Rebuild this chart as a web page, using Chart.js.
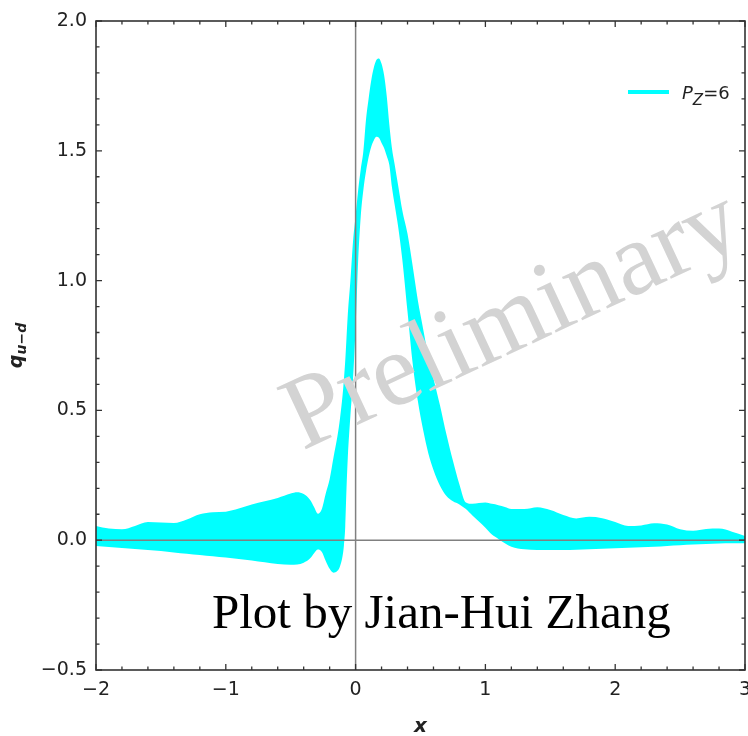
<!DOCTYPE html>
<html>
<head>
<meta charset="utf-8">
<script src="https://cdn.jsdelivr.net/npm/chart.js@4.4.1/dist/chart.umd.min.js"></script>
<style>
  html, body { margin: 0; padding: 0; background: #ffffff; }
  #wrap { width: 748px; height: 736px; position: relative; }
</style>
</head>
<body>
<div id="wrap"><canvas id="c" width="748" height="736"></canvas></div>
<script>
// Sample positions in x (denser around the peak)
const xs = [-2.0,-1.9,-1.8,-1.7,-1.6,-1.5,-1.4,-1.3,-1.2,-1.1,-1.0,-0.9,-0.8,-0.7,-0.6,-0.5,-0.45,-0.4,-0.35,-0.32,-0.29,-0.26,-0.23,-0.2,-0.17,-0.14,-0.12,-0.1,-0.09,-0.08,-0.07,-0.06,-0.04,-0.02,0.0,0.02,0.04,0.06,0.08,0.1,0.12,0.14,0.16,0.18,0.2,0.22,0.24,0.26,0.28,0.3,0.33,0.36,0.4,0.44,0.48,0.52,0.56,0.6,0.65,0.7,0.75,0.8,0.85,0.9,0.95,1.0,1.05,1.1,1.15,1.2,1.3,1.4,1.5,1.6,1.7,1.8,1.9,2.0,2.1,2.2,2.3,2.4,2.5,2.6,2.7,2.8,2.9,3.0];

// Upper edge of the P_z=6 error band
const upperBand = [0.055,0.045,0.042,0.055,0.070,0.068,0.066,0.080,0.100,0.108,0.110,0.122,0.138,0.150,0.163,0.180,0.185,0.178,0.155,0.128,0.102,0.120,0.180,0.235,0.320,0.400,0.470,0.560,0.620,0.690,0.780,0.870,1.000,1.150,1.250,1.350,1.430,1.500,1.620,1.700,1.770,1.820,1.850,1.856,1.835,1.790,1.710,1.600,1.510,1.450,1.360,1.270,1.180,1.055,0.922,0.815,0.710,0.623,0.520,0.407,0.306,0.215,0.145,0.140,0.143,0.145,0.140,0.135,0.128,0.120,0.120,0.127,0.116,0.097,0.084,0.090,0.085,0.070,0.055,0.057,0.065,0.060,0.042,0.036,0.043,0.045,0.033,0.016];

// Lower edge of the P_z=6 error band
const lowerBand = [-0.022,-0.026,-0.030,-0.034,-0.038,-0.042,-0.047,-0.052,-0.057,-0.062,-0.067,-0.072,-0.078,-0.085,-0.092,-0.095,-0.094,-0.087,-0.070,-0.050,-0.036,-0.045,-0.080,-0.110,-0.125,-0.118,-0.100,-0.060,-0.020,0.050,0.200,0.320,0.480,0.620,0.820,1.080,1.250,1.350,1.420,1.475,1.515,1.540,1.554,1.550,1.530,1.510,1.480,1.445,1.360,1.295,1.200,1.080,0.880,0.680,0.535,0.425,0.335,0.270,0.210,0.170,0.150,0.138,0.120,0.095,0.072,0.048,0.022,0.005,-0.012,-0.025,-0.035,-0.038,-0.038,-0.038,-0.037,-0.035,-0.033,-0.031,-0.029,-0.027,-0.025,-0.022,-0.019,-0.017,-0.015,-0.013,-0.012,-0.012];

const seriesLabel = 'P_z=6';
const xTickValues = [-2, -1, 0, 1, 2, 3];
const yTickValues = [-0.5, 0.0, 0.5, 1.0, 1.5, 2.0];

const bandColor = '#00ffff';
const inkColor = '#222222';
const frameColor = '#333333';

function signed(v, digits) {
  const s = Math.abs(v).toFixed(digits);
  return v < 0 ? '\u2212' + s : s;
}

// Frame, inward ticks, zero lines, annotations, legend and axis titles
const decorations = {
  id: 'decorations',
  afterDatasetsDraw(chart) {
    const { ctx, chartArea: a, scales } = chart;
    const xs_ = scales.x, ys_ = scales.y;
    ctx.save();

    // zero lines
    ctx.strokeStyle = '#808080';
    ctx.lineWidth = 1.5;
    ctx.beginPath();
    const y0 = ys_.getPixelForValue(0);
    ctx.moveTo(a.left, y0); ctx.lineTo(a.right, y0);
    const x0 = xs_.getPixelForValue(0);
    ctx.moveTo(x0, a.top); ctx.lineTo(x0, a.bottom);
    ctx.stroke();

    // watermark
    ctx.save();
    ctx.translate(525, 347);
    ctx.rotate(-25 * Math.PI / 180);
    ctx.fillStyle = '#d3d3d3';
    ctx.font = '104px "Liberation Serif"';
    ctx.textAlign = 'center';
    ctx.textBaseline = 'alphabetic';
    ctx.fillText('Preliminary', 0, 0);
    ctx.restore();

    // author credit
    ctx.fillStyle = '#000000';
    ctx.font = '49px "Liberation Serif"';
    ctx.textAlign = 'left';
    ctx.textBaseline = 'alphabetic';
    ctx.fillText('Plot by Jian-Hui Zhang', 212, 628);

    // frame
    ctx.strokeStyle = frameColor;
    ctx.lineWidth = 1.6;
    ctx.strokeRect(a.left, a.top, a.right - a.left, a.bottom - a.top);

    // ticks (pointing inward on all four sides)
    ctx.lineWidth = 1.3;
    ctx.beginPath();
    for (let i = 0; i <= 25; i++) {
      const v = -2 + i * 0.2;
      const px = xs_.getPixelForValue(v);
      const len = (i % 5 === 0) ? 6 : 3.5;
      ctx.moveTo(px, a.bottom); ctx.lineTo(px, a.bottom - len);
      ctx.moveTo(px, a.top); ctx.lineTo(px, a.top + len);
    }
    for (let i = 0; i <= 25; i++) {
      const v = -0.5 + i * 0.1;
      const py = ys_.getPixelForValue(v);
      const len = (i % 5 === 0) ? 6 : 3.5;
      ctx.moveTo(a.left, py); ctx.lineTo(a.left + len, py);
      ctx.moveTo(a.right, py); ctx.lineTo(a.right - len, py);
    }
    ctx.stroke();

    // legend
    const lx = a.right - 117, ly = a.top + 71;
    ctx.strokeStyle = bandColor;
    ctx.lineWidth = 4;
    ctx.beginPath();
    ctx.moveTo(lx, ly); ctx.lineTo(lx + 41, ly);
    ctx.stroke();
    ctx.fillStyle = inkColor;
    ctx.textBaseline = 'alphabetic';
    ctx.textAlign = 'left';
    let tx = lx + 54;
    ctx.font = 'italic 18px "DejaVu Sans"';
    ctx.fillText('P', tx, ly + 7);
    tx += ctx.measureText('P').width;
    ctx.font = 'italic 15px "DejaVu Sans"';
    ctx.fillText('Z', tx, ly + 13);
    tx += ctx.measureText('Z').width;
    ctx.font = '18px "DejaVu Sans"';
    ctx.fillText('=6', tx, ly + 7);

    // x axis title
    ctx.fillStyle = inkColor;
    ctx.font = 'italic bold 20px "DejaVu Sans"';
    ctx.textAlign = 'center';
    ctx.fillText('x', (a.left + a.right) / 2, 732);

    // y axis title q_{u-d}
    ctx.save();
    ctx.translate(22, (a.top + a.bottom) / 2);
    ctx.rotate(-Math.PI / 2);
    ctx.textAlign = 'left';
    ctx.font = 'italic bold 19px "DejaVu Sans"';
    const wq = ctx.measureText('q').width;
    ctx.font = 'italic bold 14px "DejaVu Sans"';
    const sub = 'u\u2212d';
    const ws = ctx.measureText(sub).width;
    const start = -(wq + ws) / 2;
    ctx.font = 'italic bold 19px "DejaVu Sans"';
    ctx.fillText('q', start, 0);
    ctx.font = 'italic bold 14px "DejaVu Sans"';
    ctx.fillText(sub, start + wq, 4);
    ctx.restore();

    ctx.restore();
  }
};

const upperPts = xs.map((x, i) => ({ x: x, y: upperBand[i] }));
const lowerPts = xs.map((x, i) => ({ x: x, y: lowerBand[i] }));

new Chart(document.getElementById('c'), {
  type: 'line',
  data: {
    datasets: [
      {
        label: seriesLabel + ' upper',
        data: upperPts,
        borderWidth: 0,
        borderColor: bandColor,
        backgroundColor: bandColor,
        pointRadius: 0,
        cubicInterpolationMode: 'monotone',
        fill: '+1'
      },
      {
        label: seriesLabel + ' lower',
        data: lowerPts,
        borderWidth: 0,
        borderColor: bandColor,
        backgroundColor: bandColor,
        pointRadius: 0,
        cubicInterpolationMode: 'monotone',
        fill: false
      }
    ]
  },
  options: {
    responsive: false,
    animation: false,
    events: [],
    layout: { padding: { top: 21, right: 3, left: 0, bottom: 0 } },
    plugins: {
      legend: { display: false },
      tooltip: { enabled: false },
      title: { display: false }
    },
    scales: {
      x: {
        type: 'linear',
        min: -2, max: 3,
        afterBuildTicks(scale) { scale.ticks = xTickValues.map(v => ({ value: v })); },
        afterFit(scale) { scale.height = 66; scale.paddingLeft = 0; scale.paddingRight = 0; },
        grid: { display: false, drawTicks: false },
        border: { display: false },
        ticks: {
          padding: 9,
          color: inkColor,
          font: { family: '"DejaVu Sans"', size: 19 },
          maxRotation: 0,
          callback: v => signed(v, 0)
        }
      },
      y: {
        type: 'linear',
        min: -0.5, max: 2,
        afterBuildTicks(scale) { scale.ticks = yTickValues.map(v => ({ value: v })); },
        afterFit(scale) { scale.width = 96; scale.paddingTop = 0; scale.paddingBottom = 0; },
        grid: { display: false, drawTicks: false },
        border: { display: false },
        ticks: {
          padding: 9,
          color: inkColor,
          font: { family: '"DejaVu Sans"', size: 19 },
          callback: v => signed(v, 1)
        }
      }
    }
  },
  plugins: [decorations]
});
</script>
</body>
</html>
